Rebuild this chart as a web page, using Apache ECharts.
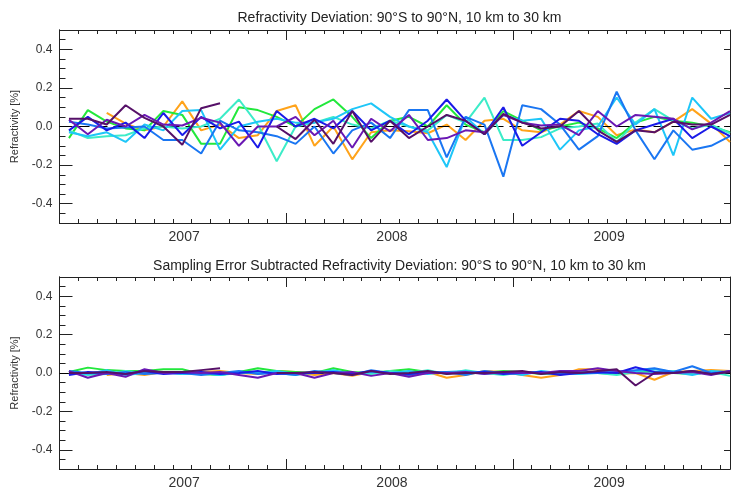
<!DOCTYPE html>
<html>
<head>
<meta charset="utf-8">
<script src="https://cdn.jsdelivr.net/npm/echarts@6/dist/echarts.min.js"></script>
<style>
  html, body { margin: 0; padding: 0; background: #fff; }
  #main { width: 731px; height: 490px; }
</style>
</head>
<body>
<div id="main"></div>
<script type="text/javascript">
// month index 0..35, one point per month
var yearLabels = ['2007', '2008', '2009'];
var yearPos = [6.1, 17.1, 28.6];
var yLabels = [-0.4, -0.2, 0, 0.2, 0.4];

var seriesNames = ['s1', 's2', 's3', 's4', 's5', 's6', 's7', 's8'];
var seriesColors = ['#ffa31a', '#22e83c', '#3cecc8', '#1ec6f8', '#1a76f2', '#1a1ae8', '#6a18b4', '#561068'];

// top panel: refractivity deviation [%]
var topOrange = [null, null, 0.07, 0.015, -0.02, 0.0, 0.13, -0.02, 0.01, -0.06, -0.045, 0.08, 0.11, -0.10, 0.0, -0.17, -0.03, -0.02, -0.025, -0.035, 0.01, -0.07, 0.03, 0.04, -0.02, -0.03, 0.01, 0.08, 0.05, -0.045, -0.015, -0.03, 0.025, 0.09, 0.015, -0.08];
var topGreen = [-0.06, 0.085, 0.025, -0.01, -0.02, 0.08, 0.06, -0.09, -0.09, 0.10, 0.085, 0.05, 0.0, 0.09, 0.14, 0.05, -0.06, 0.03, 0.05, 0.0, 0.11, 0.01, -0.03, 0.08, 0.03, -0.02, 0.0, 0.02, -0.01, -0.06, 0.02, 0.05, 0.03, 0.02, 0.0, -0.03];
var topTurq = [-0.02, -0.06, -0.05, -0.045, -0.01, 0.0, -0.01, 0.0, 0.04, 0.14, 0.01, -0.18, 0.0, 0.02, 0.05, 0.01, -0.01, 0.03, 0.0, -0.02, 0.06, 0.02, 0.15, -0.07, -0.07, -0.055, -0.01, 0.0, 0.015, -0.08, 0.02, 0.09, 0.03, -0.01, 0.01, -0.035];
var topCyan = [-0.03, -0.05, -0.03, -0.08, 0.01, -0.02, 0.08, 0.085, -0.12, 0.0, 0.025, 0.04, 0.02, 0.02, 0.04, 0.09, 0.12, 0.05, 0.0, -0.03, -0.21, 0.05, -0.04, 0.06, 0.03, 0.04, -0.12, -0.02, 0.0, 0.15, 0.01, 0.09, -0.15, 0.15, 0.04, 0.07];
var topDodger = [0.025, 0.01, -0.01, -0.005, 0.0, -0.07, -0.07, -0.14, 0.03, -0.02, -0.03, -0.05, -0.09, 0.0, -0.14, -0.02, 0.02, -0.06, 0.085, 0.085, -0.16, 0.05, 0.01, -0.26, 0.11, 0.09, 0.01, -0.12, -0.05, 0.18, -0.02, -0.17, -0.02, -0.12, -0.10, -0.05];
var topBlue = [-0.02, 0.05, -0.02, 0.02, -0.06, 0.07, -0.045, 0.05, -0.01, 0.025, -0.11, 0.08, 0.0, 0.04, -0.01, 0.08, -0.02, 0.03, -0.04, 0.03, 0.14, 0.03, -0.04, 0.10, -0.10, -0.03, 0.04, 0.03, -0.04, -0.09, -0.02, 0.01, 0.04, -0.06, 0.0, -0.05];
var topViolet = [0.035, -0.04, 0.035, 0.0, 0.06, 0.01, 0.005, 0.045, 0.02, -0.10, 0.0, 0.0, 0.05, -0.045, 0.03, -0.11, 0.04, -0.025, 0.06, -0.07, -0.06, -0.02, -0.03, 0.06, 0.02, 0.005, 0.01, -0.045, 0.08, 0.0, 0.06, 0.05, 0.04, -0.015, 0.02, 0.08];
var topPurple = [0.04, 0.04, 0.01, 0.11, 0.045, 0.0, -0.095, 0.095, 0.12, null, null, 0.0, -0.065, 0.035, -0.09, 0.08, -0.08, 0.03, -0.06, 0.0, 0.06, 0.03, -0.04, 0.065, 0.02, -0.01, 0.0, 0.08, -0.02, -0.08, -0.02, -0.03, 0.025, 0.01, 0.01, 0.06];

// bottom panel: sampling error subtracted
var botOrange = [null, null, -0.01, 0.0, -0.01, 0.005, 0.0, 0.005, 0.01, 0.0, -0.005, 0.01, 0.005, -0.01, 0.0, -0.015, 0.005, 0.0, -0.01, 0.005, -0.025, -0.01, 0.01, 0.005, -0.01, -0.025, -0.01, 0.02, 0.02, -0.005, 0.0, -0.035, 0.005, 0.01, 0.015, 0.01];
var botGreen = [0.005, 0.028, 0.015, 0.01, 0.01, 0.02, 0.02, -0.005, -0.01, 0.005, 0.025, 0.01, 0.005, 0.0, 0.025, 0.005, 0.0, 0.01, 0.02, 0.005, 0.0, 0.005, 0.0, 0.01, 0.005, -0.005, 0.0, 0.005, 0.0, -0.005, 0.01, 0.005, 0.0, -0.005, 0.005, 0.0];
var botTurq = [0.0, -0.01, -0.005, 0.01, 0.0, 0.005, -0.005, 0.0, -0.01, 0.0, 0.005, 0.0, -0.01, 0.005, 0.01, 0.0, -0.005, 0.01, 0.0, 0.015, -0.005, 0.015, 0.0, -0.01, 0.005, 0.0, -0.005, 0.01, 0.0, -0.01, 0.005, 0.0, 0.01, -0.005, 0.005, -0.015];
var botCyan = [0.0, -0.005, 0.015, -0.01, 0.0, 0.005, -0.005, 0.0, -0.01, 0.005, 0.0, 0.01, -0.005, 0.0, 0.015, -0.005, 0.005, 0.0, 0.01, -0.005, 0.005, 0.01, -0.005, 0.005, -0.01, 0.01, 0.0, -0.005, 0.0, 0.005, 0.01, 0.02, 0.005, -0.01, 0.01, 0.005];
var botDodger = [0.01, 0.0, -0.005, 0.005, -0.005, 0.0, 0.0, -0.01, 0.0, 0.01, -0.005, 0.0, -0.01, 0.01, 0.0, -0.01, 0.015, 0.0, -0.01, 0.0, 0.005, -0.01, 0.01, 0.0, 0.005, 0.0, -0.005, 0.0, 0.0, 0.005, 0.015, 0.025, 0.005, 0.035, 0.0, 0.005];
var botBlue = [-0.01, 0.005, 0.0, -0.005, 0.01, -0.005, 0.0, 0.005, -0.005, 0.0, 0.01, -0.005, 0.0, 0.0, 0.005, -0.005, 0.01, 0.0, -0.005, 0.005, 0.0, 0.0, 0.005, -0.005, 0.0, 0.005, -0.01, 0.0, 0.005, 0.0, 0.03, 0.005, 0.0, 0.01, -0.005, 0.01];
var botViolet = [0.01, -0.025, 0.0, -0.02, 0.02, 0.0, 0.005, 0.0, 0.005, -0.01, -0.025, 0.0, 0.0, -0.025, 0.0, 0.005, -0.015, 0.0, -0.02, 0.0, 0.0, 0.005, -0.005, 0.005, 0.0, 0.0, 0.01, 0.01, 0.025, 0.01, 0.0, -0.005, 0.0, 0.005, -0.01, 0.01];
var botPurple = [0.0, 0.0, 0.005, -0.005, 0.01, 0.005, 0.005, 0.015, 0.025, null, null, 0.0, 0.0, 0.005, 0.0, -0.01, 0.01, -0.005, 0.0, 0.01, -0.005, 0.0, 0.0, 0.005, 0.01, -0.005, 0.005, 0.0, 0.01, 0.02, -0.065, 0.0, 0.0, 0.01, -0.005, 0.005];

var topData = [topOrange, topGreen, topTurq, topCyan, topDodger, topBlue, topViolet, topPurple];
var botData = [botOrange, botGreen, botTurq, botCyan, botDodger, botBlue, botViolet, botPurple];

var fontName = 'Liberation Sans';
var axisColor = '#222';

// tick positions
var monthEdges = [];
for (var m = -0.5; m < 35; m += 1) monthEdges.push(m);
var yearEdges = [11.5, 23.5];
var yMinor = [];
for (var k = -9; k <= 9; k++) yMinor.push(+(k * 0.05).toFixed(2));

var grids = [
  { left: 59.5, right: 1, top: 30, height: 193 },
  { left: 59.5, right: 1, top: 277, height: 193 }
];

var xAxes = [];
var yAxes = [];
var series = [];

function xAx(gi, pos, ticks, len, withLabels) {
  return {
    gridIndex: gi, type: 'value', min: -0.5, max: 35, position: pos,
    axisLine: { show: true, onZero: false, lineStyle: { color: axisColor, width: 1 } },
    axisTick: { show: true, inside: true, length: len, customValues: ticks, lineStyle: { color: axisColor } },
    axisLabel: withLabels ? {
      show: true, customValues: yearPos, margin: 7, color: '#333', fontSize: 14, fontFamily: fontName,
      formatter: function (v) { return yearLabels[yearPos.indexOf(v)]; }
    } : { show: false },
    splitLine: { show: false }
  };
}

function yAx(gi, pos, ticks, len, withLabels) {
  var ax = {
    gridIndex: gi, type: 'value', min: -0.5, max: 0.5, position: pos,
    axisLine: { show: true, onZero: false, lineStyle: { color: axisColor, width: 1 } },
    axisTick: { show: true, inside: true, length: len, customValues: ticks, lineStyle: { color: axisColor } },
    axisLabel: { show: false },
    splitLine: { show: false }
  };
  if (withLabels) {
    ax.axisLabel = {
      show: true, customValues: yLabels, margin: 7, color: '#333', fontSize: 12, fontFamily: fontName,
      formatter: function (v) { return v.toFixed(1); }
    };
    ax.name = 'Refractivity [%]';
    ax.nameLocation = 'middle';
    ax.nameRotate = 90;
    ax.nameGap = 34;
    ax.nameTextStyle = { color: '#333', fontSize: 11, fontFamily: fontName };
  }
  return ax;
}

[topData, botData].forEach(function (panel, gi) {
  var xi = xAxes.length, yi = yAxes.length;
  xAxes.push(xAx(gi, 'bottom', monthEdges, 4, true));
  xAxes.push(xAx(gi, 'bottom', yearEdges, 10, false));
  xAxes.push(xAx(gi, 'top', monthEdges, 4, false));
  xAxes.push(xAx(gi, 'top', yearEdges, 10, false));
  yAxes.push(yAx(gi, 'left', yLabels, 13, true));
  yAxes.push(yAx(gi, 'left', yMinor, 6, false));
  yAxes.push(yAx(gi, 'right', yLabels, 6, false));

  panel.forEach(function (vals, si) {
    series.push({
      name: seriesNames[si],
      type: 'line',
      xAxisIndex: xi, yAxisIndex: yi,
      data: vals.map(function (v, i) { return [i, v]; }),
      symbol: 'none',
      lineStyle: { color: seriesColors[si], width: 2 },
      itemStyle: { color: seriesColors[si] },
      z: 3 + si
    });
  });
  // dashed zero reference
  series.push({
    type: 'line', xAxisIndex: xi, yAxisIndex: yi, data: [],
    markLine: {
      silent: true, symbol: 'none', label: { show: false },
      lineStyle: { color: '#000', type: [12, 6], width: 1 },
      data: [{ yAxis: 0 }]
    },
    z: 20
  });
});

var chart = echarts.init(document.getElementById('main'));
chart.setOption({
  animation: false,
  backgroundColor: '#fff',
  title: [
    { text: 'Refractivity Deviation: 90°S to 90°N, 10 km to 30 km', left: 394.5, textAlign: 'center', top: 6,
      textStyle: { fontSize: 14, fontWeight: 'normal', color: '#222', fontFamily: fontName } },
    { text: 'Sampling Error Subtracted Refractivity Deviation: 90°S to 90°N, 10 km to 30 km', left: 394.5, textAlign: 'center', top: 254,
      textStyle: { fontSize: 14, fontWeight: 'normal', color: '#222', fontFamily: fontName } }
  ],
  grid: grids,
  xAxis: xAxes,
  yAxis: yAxes,
  series: series
});
</script>
</body>
</html>
